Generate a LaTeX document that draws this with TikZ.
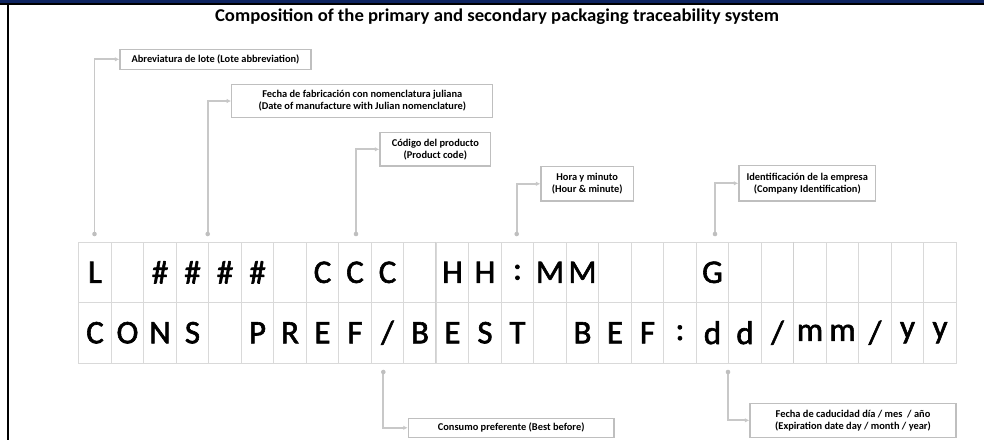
\documentclass[tikz,border=0pt]{standalone}
\usepackage{fontspec}
\setmainfont{Carlito}
\newfontfamily\gridfont{Carlito}[FakeBold=1.8]
\usetikzlibrary{arrows.meta}
\definecolor{navy}{RGB}{14,36,96}
\definecolor{gridgray}{RGB}{217,217,217}
\definecolor{darkgridgray}{RGB}{208,208,208}
\definecolor{conngray}{RGB}{200,200,200}
\definecolor{boxgray}{RGB}{191,191,191}
\tikzset{
  cell/.style={draw=gridgray, line width=0.9pt, minimum width=32.5pt, minimum height=60.4pt, inner sep=0pt, anchor=north west, font=\gridfont\fontsize{33}{33}\selectfont},
  lbl/.style={draw=boxgray, line width=1.2pt, fill=white, inner sep=0pt, align=center, font=\bfseries\fontsize{10.4}{12}\selectfont},
  conn/.style={draw=conngray, line width=1.8pt, -{Latex[length=4.5pt,width=4.5pt]}},
  dotc/.style={fill=boxgray, draw=none},
  sep/.style={draw=darkgridgray, line width=0.9pt},
}
\begin{document}
\begin{tikzpicture}[x=1pt,y=-1pt]
\useasboundingbox (0,0) rectangle (984,440);
% frame
\fill[navy] (0,0) rectangle (984,3.6);
\draw[black, line width=1.3pt] (0,4.1) -- (984,4.1);
\draw[black, line width=2pt] (8,3.5) -- (8,440);
% title
\node[font=\bfseries\fontsize{18}{20}\selectfont] (title) at (497,16.5) {\scalebox{1.04}[1]{Composition of the primary and secondary packaging traceability system}};
% grid
\foreach \t [count=\i from 0] in {L,,\#,\#,\#,\#,,C,C,C,,H,H,:,M,M,,,,G,,,,,,,}{
  \node[cell] (a\i) at (78.3+32.5*\i,241.7) {\t};
}
\foreach \t [count=\i from 0] in {C,O,N,S,,P,R,E,F,/,B,E,S,T,,B,E,F,:,d,d,/,m,m,/,y,y}{
  \node[cell] (b\i) at (78.3+32.5*\i,302.1) {\t};
}
\draw[sep] (a11.north west) -- (b11.south west);
\draw[sep] (a22.north west) -- (b22.south west);
% labels
\node[lbl, minimum width=191pt, minimum height=20pt] (l1) at (215.5,59.3) {Abreviatura de lote (Lote abbreviation)};
\node[lbl, minimum width=261pt, minimum height=33.4pt] (l2) at (362.3,101) {Fecha de fabricación con nomenclatura juliana\\(Date of manufacture with Julian nomenclature)};
\node[lbl, minimum width=110.7pt, minimum height=33.3pt] (l3) at (435.3,149.3) {Código del producto\\(Product code)};
\node[lbl, minimum width=92.3pt, minimum height=34.3pt] (l4) at (587.2,183.8) {Hora y minuto\\(Hour \& minute)};
\node[lbl, minimum width=136.7pt, minimum height=35.3pt] (l5) at (807.3,183.3) {Identificación de la empresa\\(Company Identification)};
\node[lbl, minimum width=205.7pt, minimum height=19pt] (l6) at (511.2,427.8) {Consumo preferente (Best before)};
\node[lbl, minimum width=206pt, minimum height=34pt] (l7) at (853,420.3) {Fecha de caducidad día / mes~ / año\\(Expiration date day / month / year)};
% connector start points
\coordinate (p1) at (94.5,234);
\coordinate (p2) at (207.7,234);
\coordinate (p3) at (356,234);
\coordinate (p4) at (516.7,234);
\coordinate (p5) at (715,234);
\coordinate (p6) at (383.3,372);
\coordinate (p7) at (728,372);
\foreach \k/\l in {p1/l1,p2/l2,p3/l3,p4/l4,p5/l5,p6/l6,p7/l7}{
  \draw[conn] (\k) |- (\l.west);
  \fill[dotc] (\k) circle (2.3pt);
}
\end{tikzpicture}
\end{document}
